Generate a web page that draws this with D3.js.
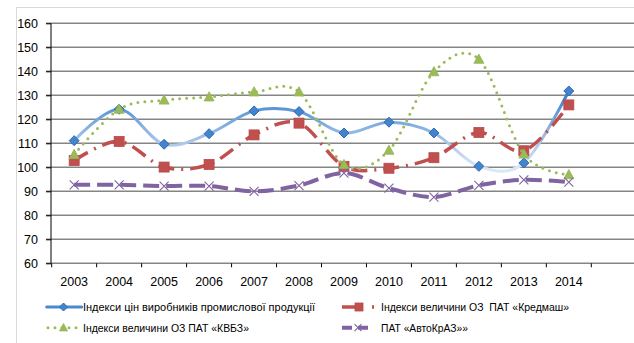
<!DOCTYPE html>
<html>
<head>
<meta charset="utf-8">
<script src="https://cdn.jsdelivr.net/npm/d3@7/dist/d3.min.js"></script>
<style>
  html, body { margin: 0; padding: 0; background: #fff; }
  svg { display: block; }
  text { font-family: "Liberation Sans", Arial, sans-serif; fill: #000; }
</style>
</head>
<body>
<svg id="chart" width="634" height="343"></svg>
<script>
// Years on the category axis
const years = ["2003", "2004", "2005", "2006", "2007", "2008", "2009", "2010", "2011", "2012", "2013", "2014"];
// Value axis ticks
const yTicks = [60, 70, 80, 90, 100, 110, 120, 130, 140, 150, 160];

// Series values (indices, %)
const producerIndex = [111.1, 124.2, 109.6, 114.0, 123.5, 123.2, 114.3, 118.8, 114.3, 100.4, 101.8, 131.8];
const kredmash      = [102.8, 110.8, 100.1, 101.2, 113.5, 118.4, 100.4, 99.6, 104.0, 114.5, 106.9, 126.0];
const kvbz          = [105.3, 124.2, 128.0, 129.3, 131.4, 131.4, 101.1, 107.1, 139.8, 145.0, 105.5, 96.9];
const autokraz      = [92.7, 92.7, 92.2, 92.2, 90.0, 92.4, 97.6, 91.3, 87.6, 92.5, 94.8, 93.8];

// Legend labels
const seriesNames = [
  "Індекси цін виробників промислової продукції",
  "Індекси величини ОЗ  ПАТ «Кредмаш»",
  "Індекси величини ОЗ ПАТ «КВБЗ»",
  "ПАТ «АвтоКрАЗ»»"
];

const svg = d3.select("#chart");

// outer chart frame
svg.append("rect")
  .attr("x", 16.5).attr("y", 7.5)
  .attr("width", 700).attr("height", 400)
  .attr("fill", "none").attr("stroke", "#d9d9d9").attr("stroke-width", 1);

const x = d3.scaleBand().domain(years).range([51.7, 591.3]).padding(0);
const y = d3.scaleLinear().domain([60, 160]).range([263.3, 23.3]);
const cx = d => x(d) + x.bandwidth() / 2;

// horizontal grid lines
svg.append("g").selectAll("line").data(yTicks).join("line")
  .attr("x1", 46).attr("x2", 640)
  .attr("y1", d => y(d)).attr("y2", d => y(d))
  .attr("stroke", "#858585").attr("stroke-width", 1.5);

// value axis
const yAxis = svg.append("g")
  .attr("transform", "translate(51,0)")
  .call(d3.axisLeft(y).tickValues(yTicks).tickSize(5).tickPadding(8));
yAxis.select(".domain").attr("stroke", "#000").attr("d", `M0,${y(160)}V${y(60)}`);
yAxis.selectAll(".tick line").attr("stroke", "#000");
yAxis.selectAll(".tick text")
  .attr("font-size", 12.5).attr("font-family", "Liberation Sans, Arial, sans-serif")
  .attr("fill", "#000");

// category axis ticks at band edges
const edges = years.map(d => x(d)).concat([x(years[years.length - 1]) + x.bandwidth()]);
svg.append("g").selectAll("line").data(edges).join("line")
  .attr("x1", d => d).attr("x2", d => d)
  .attr("y1", y(60)).attr("y2", y(60) + 4)
  .attr("stroke", "#000").attr("stroke-width", 1);

svg.append("g").selectAll("text").data(years).join("text")
  .attr("x", d => cx(d)).attr("y", 286)
  .attr("text-anchor", "middle")
  .attr("font-size", 12.5)
  .text(d => d);

// vertical gradient for the producer index line: darker at the top
const defs = svg.append("defs");
const grad = defs.append("linearGradient")
  .attr("id", "blueGrad")
  .attr("gradientUnits", "userSpaceOnUse")
  .attr("x1", 0).attr("x2", 0)
  .attr("y1", y(132)).attr("y2", y(100));
grad.append("stop").attr("offset", "0%").attr("stop-color", "#2f78c8");
grad.append("stop").attr("offset", "35%").attr("stop-color", "#6fa3dc");
grad.append("stop").attr("offset", "75%").attr("stop-color", "#b7cfee");
grad.append("stop").attr("offset", "100%").attr("stop-color", "#dce7f6");

const curve = d3.curveCardinal.tension(0);
const lineGen = vals => d3.line()
  .x((v, i) => cx(years[i]))
  .y(v => y(v))
  .curve(curve)(vals);

const series = [
  { vals: producerIndex, stroke: "url(#blueGrad)", width: 3, dash: null, cap: "round", marker: "diamond", color: "#3f80c8" },
  { vals: kredmash, stroke: "#c0504d", width: 3.5, dash: "16 7 2 7", cap: "butt", marker: "square", color: "#c0504d" },
  { vals: kvbz, stroke: "#9bbb59", width: 3, dash: "0 7", cap: "round", marker: "triangle", color: "#9bbb59" },
  { vals: autokraz, stroke: "#8064a2", width: 4, dash: "16 7", cap: "butt", marker: "cross", color: "#8064a2" }
];

function drawMarker(g, type, px, py, s) {
  if (type === "diamond") {
    g.append("path")
      .attr("d", `M${px},${py - s}L${px + s},${py}L${px},${py + s}L${px - s},${py}Z`)
      .attr("fill", "#4584cc").attr("stroke", "#2b6cb4").attr("stroke-width", 1);
  } else if (type === "square") {
    g.append("rect")
      .attr("x", px - s).attr("y", py - s).attr("width", 2 * s).attr("height", 2 * s)
      .attr("fill", "#c0504d").attr("stroke", "#b9474a").attr("stroke-width", 0.8);
  } else if (type === "triangle") {
    g.append("path")
      .attr("d", `M${px},${py - s * 1.05}L${px + s},${py + s * 0.8}L${px - s},${py + s * 0.8}Z`)
      .attr("fill", "#9bbb59").attr("stroke", "#93b552").attr("stroke-width", 0.8);
  } else if (type === "cross") {
    g.append("path")
      .attr("d", `M${px - s},${py - s}L${px + s},${py + s}M${px - s},${py + s}L${px + s},${py - s}`)
      .attr("fill", "none").attr("stroke", "#8064a2").attr("stroke-width", 1.1);
  }
}

const markerSize = { diamond: 5, square: 5, triangle: 5, cross: 4.5 };

series.forEach(s => {
  const g = svg.append("g");
  g.append("path")
    .attr("d", lineGen(s.vals))
    .attr("fill", "none")
    .attr("stroke", s.stroke)
    .attr("stroke-width", s.width)
    .attr("stroke-linecap", s.cap)
    .attr("stroke-dasharray", s.dash);
  s.vals.forEach((v, i) => drawMarker(g, s.marker, cx(years[i]), y(v), markerSize[s.marker]));
});

// legend
const legendItems = [
  { s: series[0], x0: 46.7, x1: 81.7, mx: 63.5, ty: 307, tx: 83, tw: 232, text: seriesNames[0], stroke: "#4a8ad0" },
  { s: series[1], x0: 342, x1: 376, mx: 359, ty: 307, tx: 381, tw: 188, text: seriesNames[1], stroke: "#c0504d" },
  { s: series[2], x0: 48, x1: 82, mx: 63.5, ty: 327.7, tx: 83, tw: 166, text: seriesNames[2], stroke: "#9bbb59" },
  { s: series[3], x0: 342, x1: 374, mx: 358, ty: 327.7, tx: 381, tw: 87, text: seriesNames[3], stroke: "#8064a2" }
];

const lg = svg.append("g");
legendItems.forEach(it => {
  lg.append("line")
    .attr("x1", it.x0).attr("x2", it.x1)
    .attr("y1", it.ty).attr("y2", it.ty)
    .attr("stroke", it.stroke)
    .attr("stroke-width", it.s.width)
    .attr("stroke-linecap", it.s.cap)
    .attr("stroke-dasharray", it.s.dash === "16 7 2 7" ? "21 9 2 9" : (it.s.dash === "16 7" ? "10 6" : it.s.dash));
  drawMarker(lg, it.s.marker, it.mx, it.ty, it.s.marker === "cross" ? 3.5 : 4);
  lg.append("text")
    .attr("x", it.tx).attr("y", it.ty + 4)
    .attr("font-size", 11)
    .attr("xml:space", "preserve")
    .style("white-space", "pre")
    .attr("textLength", it.tw)
    .attr("lengthAdjust", "spacingAndGlyphs")
    .text(it.text);
});
</script>
</body>
</html>
